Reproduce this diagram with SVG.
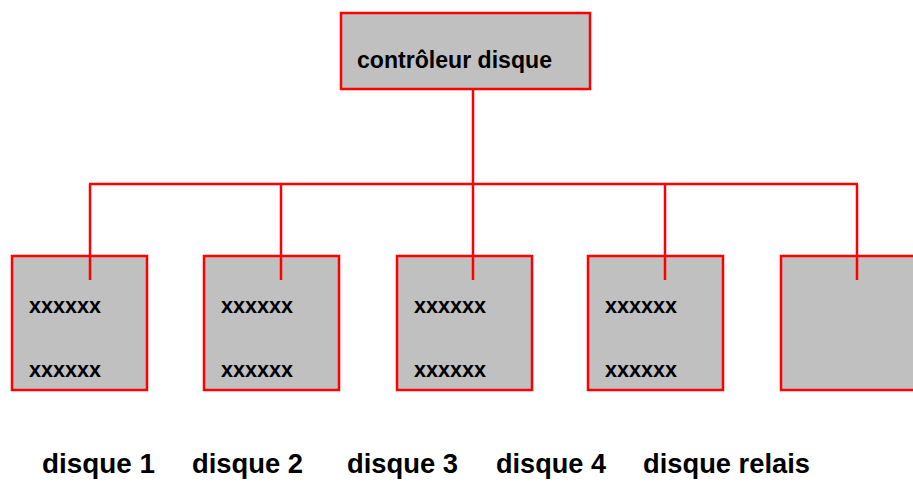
<svg xmlns="http://www.w3.org/2000/svg" width="913" height="485" viewBox="0 0 913 485">
<style>
.box{fill:#c0c0c0;stroke:#ff0000;stroke-width:2.5}
.ln{stroke:#ff0000;stroke-width:2.5;fill:none}
text{font-family:"Liberation Sans",Arial,sans-serif;font-weight:bold;fill:#000}
.x{font-size:22px}
.t{font-size:23px}
.lab{font-size:27px}
</style>
<rect width="913" height="485" fill="#fff"/>
<g id="controleur">
<rect class="box" x="341" y="13" width="249" height="76"/>
<text class="t" x="357" y="68" textLength="195" lengthAdjust="spacingAndGlyphs">contrôleur disque</text>
</g>
<g id="disque1">
<rect class="box" x="12" y="256" width="135" height="134"/>
<text class="x" x="29" y="313" textLength="72" lengthAdjust="spacingAndGlyphs">xxxxxx</text>
<text class="x" x="29" y="377" textLength="72" lengthAdjust="spacingAndGlyphs">xxxxxx</text>
</g>
<g id="disque2">
<rect class="box" x="204" y="256" width="135" height="134"/>
<text class="x" x="221" y="313" textLength="72" lengthAdjust="spacingAndGlyphs">xxxxxx</text>
<text class="x" x="221" y="377" textLength="72" lengthAdjust="spacingAndGlyphs">xxxxxx</text>
</g>
<g id="disque3">
<rect class="box" x="397" y="256" width="135" height="134"/>
<text class="x" x="414" y="313" textLength="72" lengthAdjust="spacingAndGlyphs">xxxxxx</text>
<text class="x" x="414" y="377" textLength="72" lengthAdjust="spacingAndGlyphs">xxxxxx</text>
</g>
<g id="disque4">
<rect class="box" x="588" y="256" width="135" height="134"/>
<text class="x" x="605" y="313" textLength="72" lengthAdjust="spacingAndGlyphs">xxxxxx</text>
<text class="x" x="605" y="377" textLength="72" lengthAdjust="spacingAndGlyphs">xxxxxx</text>
</g>
<g id="disque-relais">
<rect class="box" x="781" y="256" width="135" height="134"/>
</g>
<g id="connectors">
<line class="ln" x1="473" y1="89" x2="473" y2="184"/>
<line class="ln" x1="89" y1="184" x2="858" y2="184"/>
<line class="ln" x1="90" y1="184" x2="90" y2="280"/>
<line class="ln" x1="281" y1="184" x2="281" y2="280"/>
<line class="ln" x1="473" y1="184" x2="473" y2="280"/>
<line class="ln" x1="665" y1="184" x2="665" y2="280"/>
<line class="ln" x1="857" y1="184" x2="857" y2="280"/>
</g>
<g id="labels">
<text class="lab" x="42" y="473" textLength="113" lengthAdjust="spacingAndGlyphs">disque 1</text>
<text class="lab" x="192" y="473" textLength="111" lengthAdjust="spacingAndGlyphs">disque 2</text>
<text class="lab" x="347" y="473" textLength="111" lengthAdjust="spacingAndGlyphs">disque 3</text>
<text class="lab" x="496" y="473" textLength="110" lengthAdjust="spacingAndGlyphs">disque 4</text>
<text class="lab" x="643" y="473" textLength="167" lengthAdjust="spacingAndGlyphs">disque relais</text>
</g>
</svg>
